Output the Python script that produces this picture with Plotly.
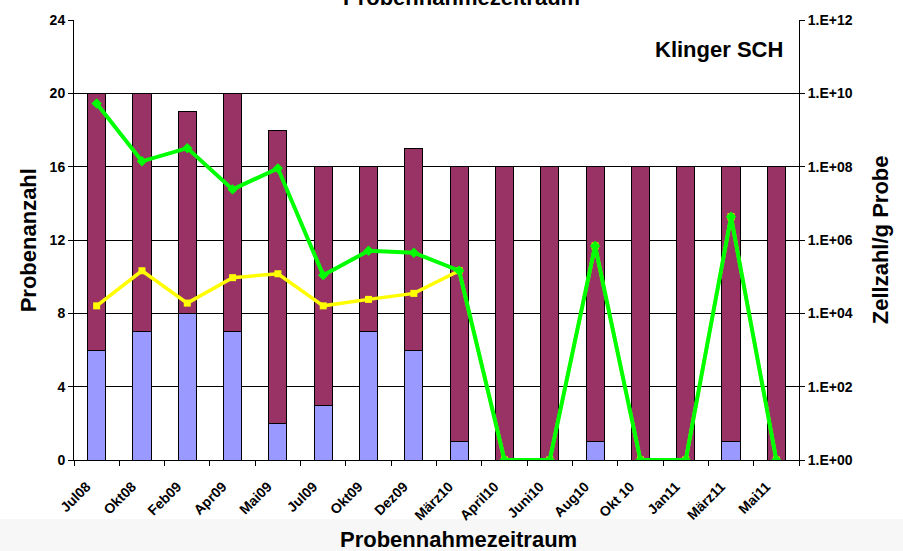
import plotly.graph_objects as go

categories = ["Jul08", "Okt08", "Feb09", "Apr09", "Mai09", "Jul09", "Okt09", "Dez09",
              "März10", "April10", "Juni10", "Aug10", "Okt 10", "Jan11", "März11", "Mai11"]
positive = [6, 7, 8, 7, 2, 3, 7, 6, 1, 0, 0, 1, 0, 0, 1, 0]
negative = [14, 13, 11, 13, 16, 13, 9, 11, 15, 16, 16, 15, 16, 16, 15, 16]
zellzahl_green = [5.3e9, 1.4e8, 3.2e8, 2.4e7, 9e7, 1.1e5, 5.1e5, 4.5e5,
                  1.45e5, 1, 1, 6.9e5, 1, 1, 4.3e6, 1]
zellzahl_yellow = [1.6e4, 1.45e5, 1.9e4, 9.4e4, 1.2e5, 1.6e4, 2.4e4, 3.5e4,
                   1.45e5, 1, 1, 6.9e5, 1, 1, 4.3e6, 1]
left_ticks = [0, 4, 8, 12, 16, 20, 24]
right_tickvals = [1, 1e2, 1e4, 1e6, 1e8, 1e10, 1e12]
right_ticktext = ["1.E+00", "1.E+02", "1.E+04", "1.E+06", "1.E+08", "1.E+10", "1.E+12"]

FONT = "Liberation Sans, Arial, sans-serif"

fig = go.Figure()
fig.add_trace(go.Bar(x=categories, y=positive, marker=dict(color="#9999FF", line=dict(color="#000000", width=1)),
                     width=0.4, name="positiv", yaxis="y"))
fig.add_trace(go.Bar(x=categories, y=negative, marker=dict(color="#993366", line=dict(color="#000000", width=1)),
                     width=0.4, name="negativ", yaxis="y"))
fig.add_trace(go.Scatter(x=categories, y=zellzahl_yellow, yaxis="y2", mode="lines+markers",
                         line=dict(color="#FFFF00", width=3.5),
                         marker=dict(symbol="square", size=7, color="#FFFF00"), name="gelb"))
fig.add_trace(go.Scatter(x=categories, y=zellzahl_green, yaxis="y2", mode="lines+markers",
                         line=dict(color="#00FF00", width=4),
                         marker=dict(symbol="diamond", size=8, color="#00FF00"), name="grün"))

fig.update_layout(
    width=903, height=551,
    margin=dict(l=74, r=104, t=20, b=91, autoexpand=False),
    paper_bgcolor="white", plot_bgcolor="white",
    barmode="stack", showlegend=False,
    font=dict(family=FONT, color="#000000"),
    xaxis=dict(type="category", tickangle=-45, ticks="outside", tickson="boundaries", ticklen=5,
               tickcolor="#000", showline=True, linecolor="#000", linewidth=1, automargin=False,
               tickfont=dict(size=14, weight="bold"), showgrid=False, range=[-0.5, 15.5],
               ticklabelstandoff=12, ticklabelshift=-10),
    yaxis=dict(range=[0, 24], tickvals=left_ticks, ticks="outside", ticklen=5, tickcolor="#000",
               showline=True, linecolor="#000", linewidth=1, showgrid=True, gridcolor="#000",
               gridwidth=1, tickfont=dict(size=14, weight="bold"), zeroline=False, automargin=False),
    yaxis2=dict(type="log", range=[0, 12], overlaying="y", side="right",
                tickvals=right_tickvals, ticktext=right_ticktext, ticks="outside", ticklen=5,
                tickcolor="#000", showline=True, linecolor="#000", linewidth=1, showgrid=False,
                tickfont=dict(size=14, weight="bold"), zeroline=False, automargin=False),
    shapes=[dict(type="rect", xref="paper", yref="paper", x0=-0.2, x1=1.3, y0=-0.134, y1=-0.3,
                 fillcolor="#f7f7f7", line=dict(width=0), layer="below")],
    annotations=[
        dict(text="<b>Probennahmezeitraum</b>", xref="paper", yref="paper", x=0.53, y=-0.18,
             showarrow=False, font=dict(size=22), xanchor="center", yanchor="middle"),
        dict(text="<b>Probennahmezeitraum</b>", xref="paper", yref="paper", x=0.534, y=1.052,
             showarrow=False, font=dict(size=22), xanchor="center", yanchor="middle"),
        dict(text="<b>Klinger SCH</b>", xref="paper", yref="paper", x=0.981, y=0.932,
             showarrow=False, font=dict(size=22), xanchor="right", yanchor="middle"),
        dict(text="<b>Probenanzahl</b>", xref="paper", yref="paper", x=-0.063, y=0.5,
             showarrow=False, font=dict(size=22), textangle=-90, xanchor="center", yanchor="middle"),
        dict(text="<b>Zellzahl/g Probe</b>", xref="paper", yref="paper", x=1.112, y=0.5,
             showarrow=False, font=dict(size=22), textangle=-90, xanchor="center", yanchor="middle"),
    ],
)

fig.write_html("out.html", config={"displayModeBar": False},
               post_script="document.body.style.margin='0';document.body.style.overflow='hidden';")
